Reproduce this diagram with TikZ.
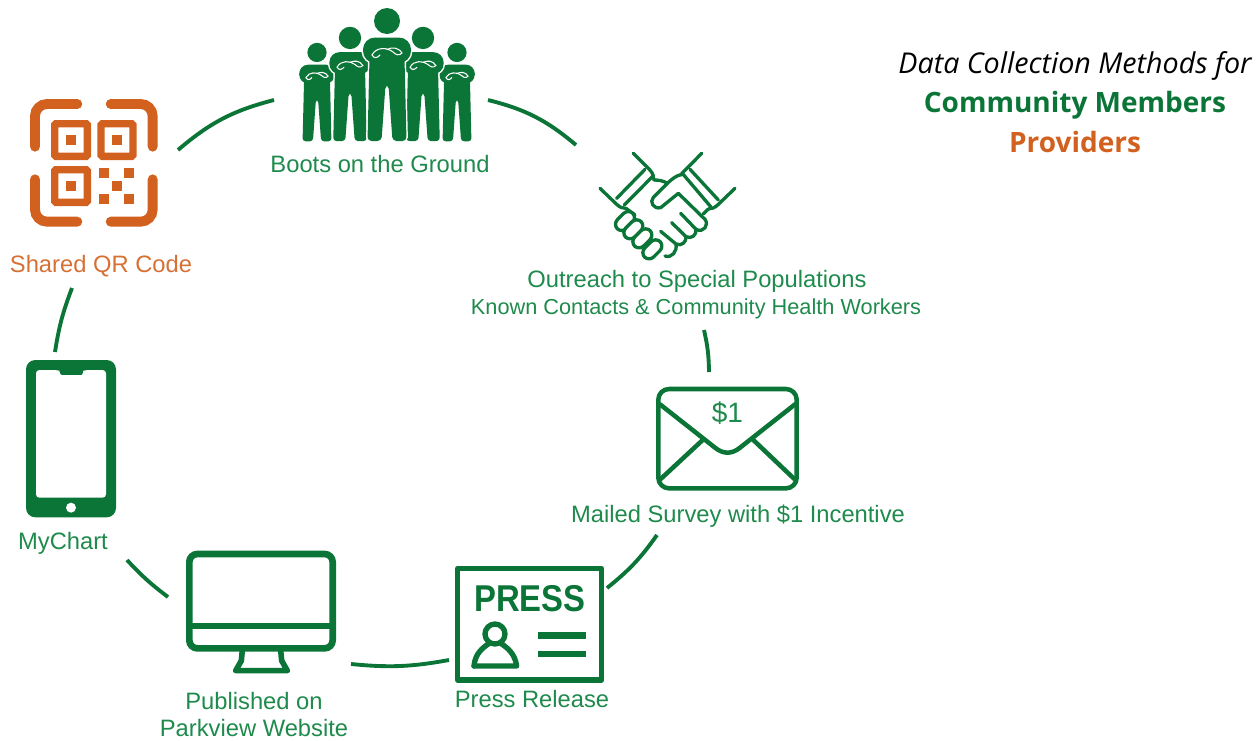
\documentclass[tikz,border=0pt]{standalone}
\usepackage{fontspec}
\setmainfont{Liberation Sans}
\newfontfamily\titlefont{Open Sans}
\definecolor{grn}{HTML}{0B7538}
\definecolor{txtg}{HTML}{1E8A4C}
\definecolor{org}{HTML}{D2601E}
\tikzset{
  conn/.style={draw=grn,line width=2.9pt},
  lab/.style={text=txtg,font=\fontsize{17.8}{20}\selectfont,inner sep=0pt,anchor=center},
  labo/.style={text=org!90!white,font=\fontsize{17.8}{20}\selectfont,inner sep=0pt,anchor=center},
  sublab/.style={text=txtg,font=\fontsize{16.3}{18}\selectfont,inner sep=0pt,anchor=center},
  ttl/.style={inner sep=0pt,anchor=center},
  icon/.style={draw=grn,line width=3.4pt,line cap=round,line join=round},
  thin icon/.style={draw=grn,line width=2.5pt,line cap=round,line join=round},
  qr/.style={draw=org,line width=7.4pt,line cap=round,rounded corners=9pt},
  qrs/.style={draw=org,line width=5.5pt,rounded corners=1pt},
  qrf/.style={fill=org},
  zoomed/.style={x=0.25pt,y=-0.25pt}
}
\newcommand{\personicon}[2]{%
  \begin{scope}[shift={(#1,142)},scale=#2]
    \fill[grn] (0,-121) circle (13);
    \path[draw=white,line width=2.2pt,rounded corners=#2*3pt]
      (-17.5,-84) -- (-19.5,-1) -- (-5.5,-1) -- (-1.5,-57) -- (1.5,-57) -- (5.5,-1) -- (19.5,-1) -- (17.5,-84) -- cycle;
    \path[draw=white,line width=2.2pt,rounded corners=#2*9pt]
      (-24,-104.5) rectangle (24,-79);
    \path[fill=grn,rounded corners=#2*3pt]
      (-17.5,-84) -- (-19.5,-1) -- (-5.5,-1) -- (-1.5,-57) -- (1.5,-57) -- (5.5,-1) -- (19.5,-1) -- (17.5,-84) -- cycle;
    \path[fill=grn,rounded corners=#2*9pt]
      (-24,-104.5) rectangle (24,-79);
    \draw[white,line width=0.8pt,line cap=round] (-15,-87) .. controls (-11,-95) and (0,-95) .. (6,-90) .. controls (9,-87) and (12,-86) .. (15,-89);
    \draw[white,line width=0.8pt,line cap=round] (15,-89) .. controls (11,-95) and (5,-95) .. (0,-92.5);
    \draw[white,line width=0.8pt,line cap=round] (-15,-87) .. controls (-13,-83.5) and (-10,-83.5) .. (-7,-87);
  \end{scope}}
\begin{document}
\begin{tikzpicture}[x=0.75pt,y=-0.75pt]
\useasboundingbox (0,0) rectangle (1259,740);
% connector ends
\coordinate (a1) at (178,150); \coordinate (a2) at (274,100);
\coordinate (b1) at (488,100); \coordinate (b2) at (576,145);
\coordinate (c1) at (704,330); \coordinate (c2) at (709,372);
\coordinate (d1) at (657,535); \coordinate (d2) at (607,588);
\coordinate (e1) at (449,660); \coordinate (e2) at (351,664);
\coordinate (f1) at (168,597); \coordinate (f2) at (127,560);
\coordinate (g1) at (55,352);  \coordinate (g2) at (72,288);
\draw[conn] (a1) to[bend left=13] (a2);
\draw[conn] (b1) to[bend left=13] (b2);
\draw[conn] (c1) to[bend left=6] (c2);
\draw[conn] (d1) to[bend left=8] (d2);
\draw[conn] (e1) to[bend left=8] (e2);
\draw[conn] (f1) to[bend left=5] (f2);
\draw[conn] (g1) to[bend left=6] (g2);
% people
\personicon{317}{0.74}
\personicon{457}{0.74}
\personicon{350}{0.86}
\personicon{423}{0.86}
\personicon{387}{1}
% handshake
\begin{scope}[shift={(590,140)},zoomed]
  \draw[thin icon] (130,40) -- (178,88) .. controls (190,100) and (190,110) .. (192,120);
  \draw[thin icon] (30,145) -- (80,193) .. controls (90,203) and (100,205) .. (108,205);
  \draw[thin icon] (190,107) -- (103,195);
  \draw[thin icon] (165,88) -- (80,175);
  \draw[thin icon] (335,40) -- (288,88) .. controls (278,98) and (275,100) .. (272,105);
  \draw[thin icon] (435,145) -- (385,193) .. controls (375,203) and (365,207) .. (355,207);
  \draw[thin icon] (277,100) -- (362,200);
  \draw[thin icon] (300,88) -- (385,180);
  \draw[thin icon] (192,120) .. controls (205,120) and (220,122) .. (232,130) .. controls (245,118) and (258,106) .. (277,103);
  \draw[thin icon] (232,130) -- (190,172) .. controls (178,186) and (190,208) .. (212,203) -- (265,160) -- (345,238) .. controls (358,255) and (340,280) .. (318,268) -- (272,220);
  \draw[thin icon] (355,207) -- (340,222);
  \draw[thin icon] (318,268) .. controls (320,285) and (305,298) .. (288,290) -- (245,248);
  \draw[thin icon] (288,290) .. controls (290,305) and (275,320) .. (258,312) -- (212,274);
  \draw[thin icon] (258,312) .. controls (262,335) and (245,355) .. (225,348);
  \draw[thin icon] (108,205) -- (135,225);
  \foreach \px/\py in {105/243,130/268,157/295,187/328}{
    \draw[thin icon,fill=white,shift={(\px,\py)},rotate=45,rounded corners=5pt] (-33,-19) rectangle (33,19);
  }
\end{scope}
% QR
\begin{scope}[shift={(20,90)},zoomed]
  \draw[qr] (45,170) -- (45,42) -- (172,42);
  \draw[qr] (272,42) -- (398,42) -- (398,170);
  \draw[qr] (45,268) -- (45,395) -- (172,395);
  \draw[qr] (272,395) -- (398,395) -- (398,268);
  \draw[qrs] (104,101) rectangle (202,199);
  \draw[qrs] (243,101) rectangle (339,199);
  \draw[qrs] (104,239) rectangle (202,337);
  \foreach \px/\py in {153/150,290/150,153/288,252/250,328/250,290/288,252/326,328/326}{
    \fill[qrf] (\px-15,\py-15) rectangle (\px+15,\py+15);
  }
\end{scope}
% phone
\begin{scope}[shift={(10,350)},zoomed]
  \fill[grn,rounded corners=7pt] (48,30) rectangle (318,502);
  \fill[white,rounded corners=2.5pt] (78,60) -- (138,60) .. controls (148,62) and (150,75) .. (165,75) -- (205,75) .. controls (218,75) and (220,62) .. (230,60) -- (288,60) -- (288,443) -- (78,443) -- cycle;
  \fill[white] (183,473) circle (15);
\end{scope}
% envelope
\begin{scope}[shift={(640,375)},zoomed]
  \draw[icon,rounded corners=8pt] (55,42) rectangle (470,340);
  \draw[icon] (60,88) -- (225,218) .. controls (250,238) and (275,238) .. (300,218) -- (465,88);
  \draw[icon] (62,312) -- (188,195);
  \draw[icon] (463,312) -- (340,195);
  \node[inner sep=0pt,text=txtg,font=\fontsize{21}{24}\selectfont] (dollar) at (262,115) {\$1};
\end{scope}
% computer
\begin{scope}[shift={(170,540)},zoomed]
  \draw[draw=grn,line width=5pt,rounded corners=6pt] (58,42) rectangle (488,325);
  \draw[draw=grn,line width=5pt] (58,258) -- (488,258);
  \draw[icon,line width=4.2pt] (217,330) -- (214,362) -- (197,392) -- (352,392) -- (335,362) -- (332,330);
\end{scope}
% press card
\begin{scope}[shift={(170,540)},zoomed]
  \draw[draw=grn,line width=4pt,line join=round] (863,85) rectangle (1295,420);
  \node[inner sep=0pt,text=grn,xscale=.88,font=\fontsize{28}{30}\bfseries\selectfont] (press) at (1080,175) {PRESS};
  \draw[icon,line width=4pt] (975,282) circle (30);
  \draw[icon,line width=4pt] (912,378) .. controls (915,340) and (940,322) .. (955,312);
  \draw[icon,line width=4pt] (995,312) .. controls (1010,322) and (1035,340) .. (1040,378) -- (912,378);
  \draw[draw=grn,line width=5pt] (1105,287) -- (1247,287);
  \draw[draw=grn,line width=5pt] (1105,342) -- (1247,342);
\end{scope}
% labels
\node[lab] (boots) at (380,164) {Boots on the Ground};
\node[labo] (qrl) at (101,266) {Shared QR Code};
\node[lab] (out) at (697,281) {Outreach to Special Populations};
\node[sublab] (known) at (696,309) {Known Contacts \& Community Health Workers};
\node[lab] (mail) at (738,516) {Mailed Survey with \$1 Incentive};
\node[lab] (rel) at (532,699) {Press Release};
\node[lab] (pub) at (254,701) {Published on};
\node[lab] (park) at (254,728) {Parkview Website};
\node[lab] (my) at (63,543) {MyChart};
% title
\node[ttl,font=\titlefont\itshape\fontsize{21.5}{24}\selectfont,text=black] (t1) at (1075,66) {Data Collection Methods for};
\node[ttl,font=\titlefont\bfseries\fontsize{21}{24}\selectfont,text=grn] (t2) at (1075,105) {Community Members};
\node[ttl,font=\titlefont\bfseries\fontsize{21}{24}\selectfont,text=org] (t3) at (1075,142) {Providers};
\end{tikzpicture}
\end{document}
